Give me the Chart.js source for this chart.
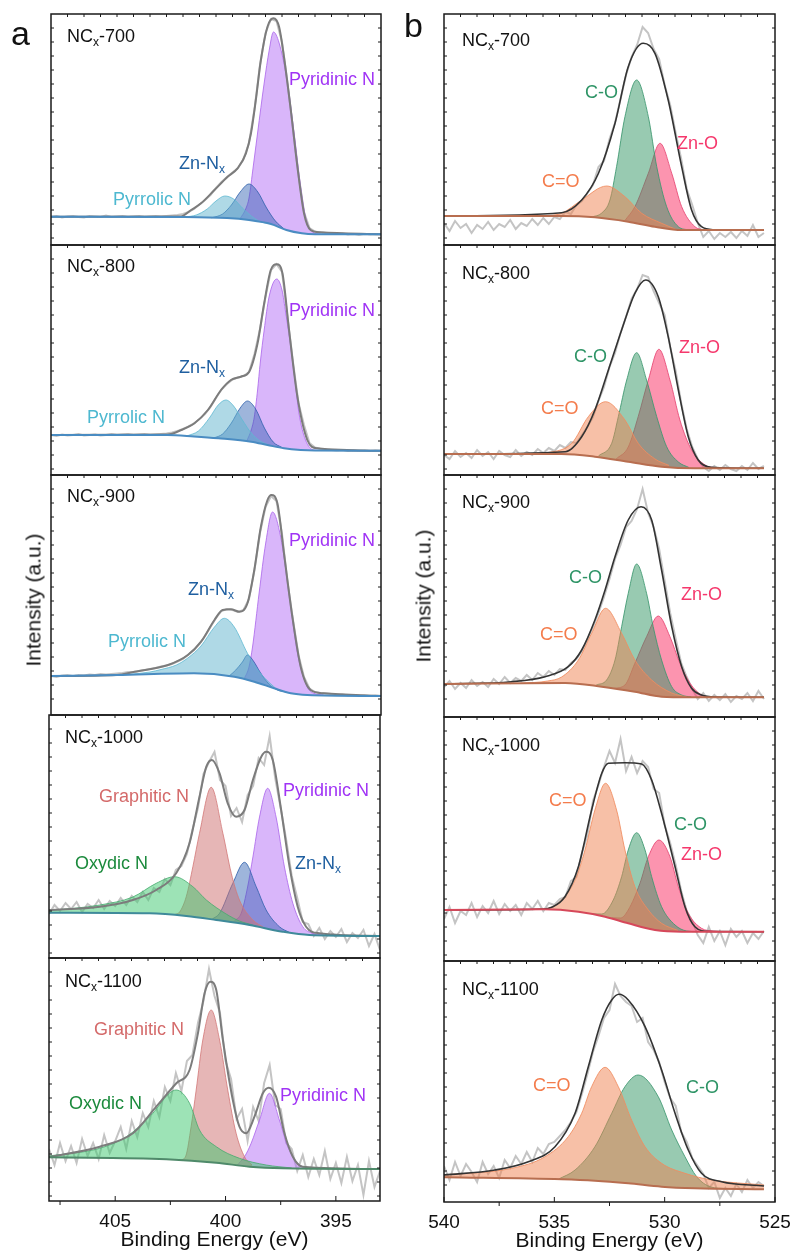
<!DOCTYPE html>
<html>
<head>
<meta charset="utf-8">
<script src="https://cdn.jsdelivr.net/npm/chart.js@4.4.1/dist/chart.umd.min.js"></script>
<style>
  body { margin: 0; background: #fff; width: 795px; height: 1255px; position: relative; overflow: hidden;
         font-family: Arial, "Liberation Sans", sans-serif; color: #111; }
  canvas { position: absolute; }
  .lbl { position: absolute; font-size: 18px; line-height: 1; white-space: nowrap; z-index: 5; }
  .lbl .s { font-size: 12px; position: relative; top: 4px; }
  .big { position: absolute; font-size: 34px; line-height: 1; z-index: 5; }
  .ytl { position: absolute; font-size: 21px; line-height: 1; white-space: nowrap; z-index: 5;
         transform: translate(-50%, -50%) rotate(-90deg); }
</style>
</head>
<body>
<script>
// ---- sampling grids of the raw spectra (eV) ----
const rawE_N = [408,407.75,407.5,407.25,407,406.75,406.5,406.25,406,405.75,405.5,405.25,405,404.75,404.5,404.25,404,403.75,403.5,403.25,
  403,402.75,402.5,402.25,402,401.75,401.5,401.25,401,400.75,400.5,400.25,400,399.75,399.5,399.25,399,398.75,398.5,398.25,
  398,397.75,397.5,397.25,397,396.75,396.5,396.25,396,395.75,395.5,395.25,395,394.75,394.5,394.25,394,393.75,393.5,393.25,393];
const rawE_O = [540,539.75,539.5,539.25,539,538.75,538.5,538.25,538,537.75,537.5,537.25,537,536.75,536.5,536.25,536,535.75,535.5,535.25,
  535,534.75,534.5,534.25,534,533.75,533.5,533.25,533,532.75,532.5,532.25,532,531.75,531.5,531.25,531,530.75,530.5,530.25,
  530,529.75,529.5,529.25,529,528.75,528.5,528.25,528,527.75,527.5,527.25,527,526.75,526.5,526.25,526,525.75,525.5];

// tick labels
const ticksN = [395, 400, 405];
const minorN = [397.5, 402.5, 407.5];
const ticksO = [525, 530, 535, 540];
const minorO = [527.5, 532.5, 537.5];

// ================= N 1s =================
// NCx-700
const raw700N = [28,29,27.5,28.5,29,28,27.5,29,28.5,28, 29.5,28,28.5,29,28,28.5,29,28,28.5,29,
  28.5,29,29.5,30,31,33,36,40.5,45,50, 57,63,68,72.5,77,86,102,136,180,212,
  226,224,203,162,116,70,33,17,13.5,12.5, 12,11.5,11,11.5,10.5,11,10,11,10.5,11, 10.5];
const base700N = [[408,28.3],[402,28],[400,27],[399,25],[398,21],[397.3,15],[396.6,11.7],[396,10.8],[393,10.7]];
const pyrrolic700 = [[401.9,28],[401.4,30],[400.9,36],[400.5,44],[400.1,49],[399.7,46],[399.3,37],[398.9,29],[398.5,23.5],[398.1,21.5]];
const znnx700 = [[400.7,27.2],[400.2,31],[399.8,40],[399.4,53],[399.0,61],[398.6,53],[398.2,37],[397.8,24],[397.4,16]];
const pyridinic700 = [[399.4,26.5],[399.15,36],[399.0,47],[398.81,78],[398.61,112],[398.31,162],[398.08,195],[397.89,213],[397.63,202],[397.25,162],[396.95,112],[396.65,58],[396.43,28],[396.13,13.3],[395.75,10.8]];
const env700N = [[408,28.3],[402.1,28.5],[401.63,35],[401.18,41.7],[400.57,55],[399.97,68.3],[399.52,76.7],[399.14,91.7],[398.91,111.7],[398.69,145],[398.46,185],[398.16,218.3],[397.89,226.7],[397.63,218],[397.41,188],[397.1,135],[396.8,78.3],[396.5,31.7],[396.2,15],[395.75,12.7],[393,10.7]];

// NCx-800
const raw800N = [40,39,40.5,39.5,40,41,39.5,40,40.5,39.5, 40,41,40,40.5,41,40,40.5,41,40,40.5,
  41,41.5,42.5,44,46,48.5,51.5,56,61,68, 77,85.5,91,95.5,97.5,99,103,121,146,178,
  205,211,203,158,113,72,50,32,27.5,26, 25.5,25,24.5,25,24,24.5,24,24.5,24,24.5, 24];
const base800N = [[408,40],[402.7,40],[401.5,38.5],[400.4,36.7],[398.9,33.3],[398.16,30],[397.41,26.7],[396.65,25],[396,24.5],[393,24.3]];
const pyrrolic800 = [[401.8,39.2],[401.3,44],[400.8,57],[400.4,70],[400.05,75],[399.7,69],[399.3,55],[398.9,42],[398.5,34],[398.1,30]];
const znnx800 = [[400.6,37],[400.2,41],[399.8,52],[399.4,67],[399.07,74],[398.7,66],[398.3,47],[397.9,33],[397.5,27.5]];
const pyridinic800 = [[399.1,34],[398.9,45],[398.76,58],[398.61,85],[398.49,112],[398.31,145],[398.09,178],[397.74,196],[397.5,185],[397.33,162],[397.0,112],[396.73,62],[396.43,35],[396.05,25],[395.7,24.5]];
const env800N = [[408,40],[402.7,40.5],[402.08,45],[401.48,51.7],[400.87,65],[400.27,85],[399.82,95],[399.37,98.3],[398.99,103.3],[398.61,131.7],[398.31,171.7],[398.01,205],[397.74,210.7],[397.48,201.7],[397.18,145],[396.8,78.3],[396.35,35],[395.9,26.7],[393,24.3]];

// NCx-900
const raw900N = [39,38,39.5,40,39,40,39.5,40.5,40,41, 40.5,41,41.5,42,43,43,44,45,46,47,
  48.5,49.5,51,53.5,56,60.5,65,71,79,88, 97,104,106,105,103,105,116,145,182,208,
  219,214,181,133,95,60,38,26.5,23,22, 21.5,21,20,20.5,19.5,20,19,19.5,19,19.5, 19];
const base900N = [[408,39],[405,40],[401.5,41.7],[399.67,38.3],[398.76,33.3],[397.86,26.7],[397.1,21.7],[396.35,20],[393,19]];
const pyrrolic900 = [[404.5,40.5],[403.5,43],[403.0,45.5],[402.3,50],[401.78,57],[401.18,69],[400.57,88],[400.12,96.7],[399.67,88],[399.07,61.7],[398.6,45],[398.2,35],[397.8,27]];
const znnx900 = [[399.9,39],[399.6,45],[399.3,53],[399.07,60],[398.8,54],[398.5,43],[398.1,31],[397.71,25],[397.3,23]];
const pyridinic900 = [[399.2,37],[399.0,48],[398.84,68],[398.54,122],[398.24,172],[397.93,203],[397.56,178],[397.18,122],[396.8,62],[396.35,28],[396.05,21.7],[395.6,20]];
const env900N = [[408,39],[405,40],[404.2,43.3],[402.68,50],[401.78,60],[401.18,73.3],[400.57,95],[400.2,105],[399.82,105.7],[399.44,103.3],[399.07,111.7],[398.76,145],[398.46,188.3],[398.16,215],[397.98,220],[397.71,211.7],[397.41,161.7],[397.03,98.3],[396.65,48.3],[396.2,25],[395.6,21.7],[393,19]];

// NCx-1000
const raw1000N = [44,53,47,55,49,56,46,54,50,58, 49,57,52,60,53,62,56,66,58,70,
  66,79,73,88,92,104,128,150,184,196, 206,178,172,142,150,136,163,172,200,193,
  222,180,150,118,82,60,36,34,22,30, 19,27,21,29,16,25,20,28,12,24, 8];
const base1000N = [[408,45.3],[403.44,44.7],[401.78,42],[400.42,38],[398.91,33],[397.41,26.3],[396.2,23],[393,22]];
const oxydic1000 = [[408,47.3],[405.7,53],[404.2,61],[403.14,74.7],[402.31,81.3],[401.48,71.3],[400.87,58],[399.97,44],[399.37,37],[398.76,33]];
const graphitic1000 = [[402.3,43.5],[402.08,46],[401.78,61.3],[401.48,91.3],[401.18,124.7],[400.65,170.7],[400.12,124.7],[399.74,84.7],[399.37,58],[398.76,38],[398.3,31]];
const znnx1000 = [[400.6,39],[400.27,44.7],[399.67,74.7],[399.14,95.7],[398.61,71.3],[398.16,48],[397.56,31.3],[397.1,25.5]];
const pyridinic1000 = [[399.6,37],[399.29,44.7],[399.0,71],[398.76,101],[398.46,141],[398.09,169.7],[397.71,141],[397.33,91],[396.95,54.7],[396.5,31.3],[396.05,24.7],[395.6,23]];
const env1000N = [[408,48],[405.7,51.3],[404.2,58],[403.14,68],[402.23,85],[401.63,115],[401.18,161.3],[400.87,191.3],[400.62,198],[400.27,184.7],[399.9,154.7],[399.52,141.3],[399.14,148],[398.76,178],[398.38,201.3],[398.16,206.3],[397.86,198],[397.48,148],[397.1,91.3],[396.73,51.3],[396.35,31.3],[395.75,24.7],[393,22]];

// NCx-1100
const raw1100N = [52,36,58,40,55,38,62,45,58,42, 66,48,60,74,52,80,64,88,74,100,
  84,114,100,128,110,140,146,178,200,232, 205,188,140,122,82,92,60,94,80,118,
  136,96,92,58,52,30,46,24,42,26, 50,22,38,18,44,20,36,6,40,14, 30];
const base1100N = [[408,43.7],[402.68,41.7],[400.42,38.3],[398.91,34.3],[397.41,32.7],[393,32]];
const oxydic1100 = [[408,45],[405.7,52.7],[404.49,64.3],[403.44,84.3],[402.23,111],[401.63,97.7],[401.18,71],[400.42,54.3],[399.37,42.7],[398.16,36],[397,33]];
const graphitic1100 = [[402.0,41],[401.8,45],[401.56,74.3],[401.33,111],[401.03,161],[400.65,191],[400.27,161],[399.9,111],[399.52,67.7],[399.14,44.3],[398.8,36]];
const pyridinic1100 = [[399.5,35.3],[399.14,44.3],[398.84,57.7],[398.46,81],[398.01,107.7],[397.56,81],[397.18,54.3],[396.73,37.7],[396.3,33.3],[395.8,32.5]];
const env1100N = [[408,44],[405.7,54.3],[404.2,67.7],[403.14,94.3],[402.23,117.7],[401.63,131],[401.25,167.7],[400.95,207.7],[400.69,219.3],[400.42,211],[400.12,161],[399.67,101],[399.37,74.3],[399.07,67.7],[398.69,84.3],[398.31,107.7],[398.04,113.3],[397.71,104.3],[397.33,67.7],[396.95,44.3],[396.5,34.3],[393,32]];

// ================= O 1s =================
// NCx-700
const raw700O = [22,14,24,17,21,12,20,16,23,15, 21,18,25,16,22,19,26,20,27,21,
  28,26,33,31,40,44,52,60,78,84, 106,122,146,170,188,200,218,212,196,186,
  160,140,112,86,56,40,22,8,14,6, 12,8,13,7,14,9,20,8,12];
const base700O = [[540,29],[534.67,29],[533.16,27.7],[531.65,23.3],[530.44,18.3],[529.23,15],[525.5,15]];
const cdo700 = [[535.5,29.1],[534.67,31.7],[533.76,45],[532.63,59],[531.8,48.3],[531.04,31.7],[530.14,21.7],[529.5,15.8]];
const co700 = [[533.3,28],[532.85,32],[532.48,45],[532.18,78.3],[531.8,128.3],[531.27,165],[530.74,128.3],[530.36,78.3],[529.91,38.3],[529.38,18.3],[528.9,15]];
const zno700 = [[531.8,24.5],[531.35,38.3],[530.74,71.7],[530.21,101.7],[529.68,71.7],[529.23,38.3],[528.63,18.3],[528.2,15]];
const env700O = [[540,29],[534.67,32.3],[533.76,45],[533.0,71.7],[532.25,121.7],[531.65,178.3],[530.97,201.7],[530.44,191.7],[529.84,145],[529.23,78.3],[528.78,35],[528.33,18.3],[527.8,15.3],[525.5,15]];

// NCx-800
const raw800O = [20,16,24,18,22,17,25,19,23,16, 24,20,18,25,19,23,20,26,22,27,
  24,30,27,33,32,40,48,58,74,88, 108,122,142,158,176,186,200,198,184,172,
  160,128,104,72,46,28,16,8,4,9, 5,10,6,4,9,5,12,6,9];
const base800O = [[540,21],[534.67,21],[533.16,18.3],[531.65,13.3],[530.14,8.3],[528.63,6.7],[525.5,6.7]];
const cdo800 = [[535.5,21.1],[534.21,31.7],[533.46,58.3],[532.68,73.3],[531.8,55],[531.2,31.7],[530.44,16],[529.8,9.5]];
const co800 = [[533.0,19],[532.4,31.7],[532.1,58.3],[531.72,95],[531.27,122.3],[530.82,95],[530.36,58.3],[529.91,28.3],[529.38,13],[528.9,7.5]];
const zno800 = [[532.2,16],[531.65,28],[531.2,58.3],[530.74,95],[530.26,125.7],[529.76,95],[529.31,55],[528.78,25],[528.17,10],[527.7,7]];
const env800O = [[540,21],[534.5,23.3],[533.76,38.3],[533.16,65],[532.55,105],[531.95,145],[531.35,181.7],[530.86,195],[530.29,178.3],[529.84,138.3],[529.38,85],[528.93,38.3],[528.48,15],[527.9,7.7],[525.5,6.7]];

// NCx-900
const raw900O = [30,36,28,34,29,37,31,35,30,38, 33,40,34,39,36,42,37,44,40,46,
  42,48,47,54,58,66,78,90,104,120, 138,158,172,190,196,208,228,204,190,168,
  136,104,78,54,40,28,18,24,16,22, 17,23,15,21,18,24,16,26,18];
const base900O = [[540,33],[534.5,34],[532.85,30.3],[531.35,25.3],[530.14,20.3],[528.9,19.7],[525.5,19.7]];
const cdo900 = [[536.5,33.7],[535.3,36],[534.67,40],[533.91,57],[533.31,83.7],[532.68,108.7],[531.95,83.7],[531.35,57],[530.59,37],[529.68,24],[529,20]];
const co900 = [[533.1,32],[532.63,37],[532.25,57],[531.95,90.3],[531.65,123.7],[531.27,153],[530.82,123.7],[530.52,90.3],[530.14,57],[529.68,30.3],[529.23,22],[528.8,20]];
const zno900 = [[532.3,28.6],[531.8,32],[531.35,53.7],[530.82,80.3],[530.29,101],[529.76,80.3],[529.31,53.7],[528.85,33.7],[528.33,22],[527.9,20]];
const env900O = [[540,33],[536.93,35.3],[535.42,40.3],[534.37,50.3],[533.76,67],[533.16,97],[532.7,127],[532.25,160.3],[531.65,197],[531.07,210.3],[530.59,197],[530.14,147],[529.68,90.3],[529.23,50.3],[528.78,28.7],[528.33,22],[527.7,20],[525.5,19.7]];

// NCx-1000
const raw1000O = [42,54,38,50,46,58,44,55,48,60, 47,57,50,56,46,58,52,60,50,58,
  56,62,64,80,84,108,126,160,176,194, 210,198,222,190,204,188,200,194,172,168,
  136,118,96,70,50,40,26,18,34,20, 30,16,32,24,30,18,28,22,30];
const base1000O = [[540,51],[535.5,51.7],[533.91,49.3],[532.7,44.3],[531.65,37.7],[530.44,31],[529.23,29.3],[525.5,29.3]];
const cdo1000 = [[536,51.6],[535.3,52.7],[534.67,61],[534.06,81],[533.61,111],[533.16,151],[532.68,177.7],[532.18,151],[531.8,111],[531.35,74.3],[530.74,51],[530.14,37.7],[529.4,30.5]];
const co1000 = [[533.3,47.2],[532.85,47],[532.33,61],[531.95,84.3],[531.65,111],[531.27,128.3],[530.89,111],[530.59,84.3],[530.14,54.3],[529.53,36],[529.0,30],[528.5,29.3]];
const zno1000 = [[532.4,43.2],[532.0,43],[531.65,51],[531.12,77.7],[530.74,104.3],[530.26,121],[529.76,104.3],[529.38,74.3],[528.93,47.7],[528.33,32.7],[527.8,30],[527.3,29.3]];
const env1000O = [[540,51],[535.5,52],[535.12,53.7],[534.52,64.3],[533.91,94.3],[533.31,151],[532.85,187.7],[532.55,197.7],[531.8,198.3],[531.04,197],[530.59,181],[530.14,147.7],[529.53,94.3],[529.08,54.3],[528.63,34.3],[528,29.5],[525.5,29.3]];

// NCx-1100
const raw1100O = [36,22,40,26,38,30,20,40,28,36, 24,42,34,46,38,50,40,54,48,58,
  60,66,72,80,90,108,128,150,166,184, 192,218,206,200,196,180,184,160,152,140,
  120,104,96,70,60,44,36,28,14,20, 4,14,6,18,10,22,14,20,16];
const base1100O = [[540,24.7],[534.67,22.7],[533.16,21.3],[531.65,18.7],[530.14,15.3],[528.63,13.7],[525.5,12.7]];
const cdo1100 = [[540,27],[536.93,33.7],[535.42,45.3],[534.37,65.3],[533.76,88.7],[533.31,115.3],[532.7,134.7],[532.1,115.3],[531.5,82],[530.89,55.3],[530.14,38.7],[529.08,28.7],[527.87,22],[525.5,17]];
const co1100 = [[534.8,23],[534.06,32],[533.16,55.3],[532.4,88.7],[531.8,115.3],[531.2,127],[530.29,105.3],[529.68,72],[529.08,45.3],[528.55,25.3],[527.9,15],[527.3,13.5]];
const env1100O = [[540,27],[537.69,32],[536.18,40.3],[534.97,55.3],[534.06,88.7],[533.46,135.3],[532.85,182],[532.4,202],[532.07,207.7],[531.65,202],[530.89,175.3],[530.14,132],[529.53,88.7],[528.93,52],[528.33,28.7],[527.42,20.3],[525.5,16]];

// ---- styles ----
const FONT = 'Arial, "Liberation Sans", sans-serif';
const COL = {
  pyridinic: { fill: 'rgba(180,110,245,0.5)', line: 'rgba(170,100,235,0.8)' },
  znnx:      { fill: 'rgba(40,90,175,0.45)',  line: 'rgba(45,95,170,0.8)' },
  pyrrolic:  { fill: 'rgba(95,180,205,0.5)',  line: 'rgba(95,185,210,0.8)' },
  graphitic: { fill: 'rgba(205,110,110,0.5)', line: 'rgba(210,120,120,0.8)' },
  oxydic:    { fill: 'rgba(60,200,110,0.5)',  line: 'rgba(70,170,110,0.8)' },
  cdo:       { fill: 'rgba(240,130,80,0.5)',  line: 'rgba(240,140,95,0.85)' },
  co:        { fill: 'rgba(50,150,100,0.5)',  line: 'rgba(60,150,110,0.85)' },
  zno:       { fill: 'rgba(250,60,110,0.55)', line: 'rgba(230,70,115,0.85)' }
};
const N_AX = { major: ticksN, minor: minorN };
const O_AX = { major: ticksO, minor: minorO };

const panels = [
  { x: 51, y: 14, w: 330, h: 231, r: [393, 408], rawE: rawE_N, raw: raw700N, base: base700N, env: env700N,
    comps: [['pyrrolic', pyrrolic700], ['znnx', znnx700], ['pyridinic', pyridinic700]], bc: '#4a8cc2', ec: '#7c7c7c', ew: 2 },
  { x: 51, y: 245, w: 330, h: 230, r: [393, 408], rawE: rawE_N, raw: raw800N, base: base800N, env: env800N,
    comps: [['pyrrolic', pyrrolic800], ['znnx', znnx800], ['pyridinic', pyridinic800]], bc: '#4a8cc2', ec: '#7c7c7c', ew: 2 },
  { x: 51, y: 475, w: 330, h: 240, r: [393, 408], rawE: rawE_N, raw: raw900N, base: base900N, env: env900N,
    comps: [['pyrrolic', pyrrolic900], ['znnx', znnx900], ['pyridinic', pyridinic900]], bc: '#4a8cc2', ec: '#7c7c7c', ew: 2 },
  { x: 49, y: 715, w: 331, h: 243, r: [393, 408], rawE: rawE_N, raw: raw1000N, base: base1000N, env: env1000N,
    comps: [['oxydic', oxydic1000], ['graphitic', graphitic1000], ['znnx', znnx1000], ['pyridinic', pyridinic1000]], bc: '#3f8a9a', ec: '#7c7c7c', ew: 2 },
  { x: 49, y: 958, w: 331, h: 243, r: [393, 408], rawE: rawE_N, raw: raw1100N, base: base1100N, env: env1100N,
    comps: [['oxydic', oxydic1100], ['graphitic', graphitic1100], ['pyridinic', pyridinic1100]], bc: '#4f8a6a', ec: '#7c7c7c', ew: 2, axis: N_AX },
  { x: 444, y: 14, w: 331, h: 231, r: [525, 540], rawE: rawE_O, raw: raw700O, base: base700O, env: env700O,
    comps: [['cdo', cdo700], ['co', co700], ['zno', zno700]], bc: '#b86e50', ec: '#333333', ew: 1.6 },
  { x: 444, y: 245, w: 331, h: 230, r: [525, 540], rawE: rawE_O, raw: raw800O, base: base800O, env: env800O,
    comps: [['cdo', cdo800], ['co', co800], ['zno', zno800]], bc: '#b86e50', ec: '#333333', ew: 1.6 },
  { x: 444, y: 475, w: 331, h: 242, r: [525, 540], rawE: rawE_O, raw: raw900O, base: base900O, env: env900O,
    comps: [['cdo', cdo900], ['co', co900], ['zno', zno900]], bc: '#b86e50', ec: '#333333', ew: 1.6 },
  { x: 444, y: 717, w: 331, h: 244, r: [525, 540], rawE: rawE_O, raw: raw1000O, base: base1000O, env: env1000O,
    comps: [['cdo', cdo1000], ['co', co1000], ['zno', zno1000]], bc: '#d6485a', ec: '#333333', ew: 1.6 },
  { x: 444, y: 961, w: 331, h: 241, r: [525, 540], rawE: rawE_O, raw: raw1100O, base: base1100O, env: env1100O,
    comps: [['cdo', cdo1100], ['co', co1100]], bc: '#b86e50', ec: '#333333', ew: 1.6, axis: O_AX }
];

// text labels: [html, left x, centre y, colour]
const labels = [
  ['NC<span class="s">x</span>-700', 67, 36, '#111'],
  ['Pyridinic N', 289, 79, '#a033f5'],
  ['Zn-N<span class="s">x</span>', 179, 163, '#1f5fa0'],
  ['Pyrrolic N', 113, 199, '#4db8d0'],
  ['NC<span class="s">x</span>-800', 67, 266, '#111'],
  ['Pyridinic N', 289, 310, '#a033f5'],
  ['Zn-N<span class="s">x</span>', 179, 367, '#1f5fa0'],
  ['Pyrrolic N', 87, 417, '#4db8d0'],
  ['NC<span class="s">x</span>-900', 67, 496, '#111'],
  ['Pyridinic N', 289, 540, '#a033f5'],
  ['Zn-N<span class="s">x</span>', 188, 589, '#1f5fa0'],
  ['Pyrrolic N', 108, 641, '#4db8d0'],
  ['NC<span class="s">x</span>-1000', 65, 737, '#111'],
  ['Graphitic N', 99, 796, '#d46a6a'],
  ['Pyridinic N', 283, 790, '#a033f5'],
  ['Oxydic N', 75, 863, '#1b8a3c'],
  ['Zn-N<span class="s">x</span>', 295, 863, '#1f5fa0'],
  ['NC<span class="s">x</span>-1100', 65, 981, '#111'],
  ['Graphitic N', 94, 1029, '#d46a6a'],
  ['Oxydic N', 69, 1103, '#1b8a3c'],
  ['Pyridinic N', 280, 1095, '#a033f5'],
  ['NC<span class="s">x</span>-700', 462, 40, '#111'],
  ['C-O', 585, 92, '#2e9466'],
  ['Zn-O', 677, 143, '#f5386c'],
  ['C=O', 542, 181, '#f47c4c'],
  ['NC<span class="s">x</span>-800', 462, 273, '#111'],
  ['C-O', 574, 356, '#2e9466'],
  ['Zn-O', 679, 347, '#f5386c'],
  ['C=O', 541, 408, '#f47c4c'],
  ['NC<span class="s">x</span>-900', 462, 502, '#111'],
  ['C-O', 569, 577, '#2e9466'],
  ['Zn-O', 681, 594, '#f5386c'],
  ['C=O', 540, 634, '#f47c4c'],
  ['NC<span class="s">x</span>-1000', 462, 745, '#111'],
  ['C=O', 549, 800, '#f47c4c'],
  ['C-O', 674, 824, '#2e9466'],
  ['Zn-O', 681, 854, '#f5386c'],
  ['NC<span class="s">x</span>-1100', 462, 989, '#111'],
  ['C=O', 533, 1085, '#f47c4c'],
  ['C-O', 686, 1087, '#2e9466']
];

Chart.defaults.font.family = FONT;
Chart.defaults.color = '#111';

const pts = arr => arr.map(p => ({ x: p[0], y: p[1] }));
const rawPts = (xs, ys) => ys.map((y, i) => ({ x: xs[i], y })).filter(p => p.x !== undefined);

// frame with small inward ticks, plus major/minor ticks on the bottom axis
const framePlugin = {
  id: 'frame',
  afterDraw(chart, args, opts) {
    const { ctx, chartArea: a } = chart;
    ctx.save();
    ctx.strokeStyle = '#1a1a1a';
    ctx.lineWidth = 1.5;
    ctx.strokeRect(a.left, a.top, a.right - a.left, a.bottom - a.top);
    ctx.lineWidth = 1;
    ctx.beginPath();
    for (let y = a.top + 14; y < a.bottom - 4; y += 14) {
      ctx.moveTo(a.left, y); ctx.lineTo(a.left + 3, y);
      ctx.moveTo(a.right, y); ctx.lineTo(a.right - 3, y);
    }
    for (let x = a.left + 16.5; x < a.right - 4; x += 16.5) {
      ctx.moveTo(x, a.top); ctx.lineTo(x, a.top + 3);
    }
    if (opts.axis) {
      const sx = chart.scales.x;
      opts.axis.major.forEach(v => {
        const px = sx.getPixelForValue(v);
        ctx.moveTo(px, a.bottom); ctx.lineTo(px, a.bottom - 5);
      });
      opts.axis.minor.forEach(v => {
        const px = sx.getPixelForValue(v);
        ctx.moveTo(px, a.bottom); ctx.lineTo(px, a.bottom + 4);
      });
    }
    ctx.stroke();
    ctx.restore();
  }
};

const PAD = 20, AXIS_H = 52;
panels.forEach(p => {
  const cv = document.createElement('canvas');
  cv.width = p.w + PAD * 2;
  cv.height = p.h + 2 + (p.axis ? AXIS_H : 2);
  cv.style.left = (p.x - PAD) + 'px';
  cv.style.top = (p.y - 2) + 'px';
  document.body.appendChild(cv);

  const datasets = [
    { data: pts(p.base), borderColor: p.bc, borderWidth: 2, fill: false, cubicInterpolationMode: 'monotone' },
    { data: pts(p.env), borderColor: p.ec, borderWidth: p.ew, fill: false, cubicInterpolationMode: 'monotone' }
  ];
  p.comps.forEach(([k, d]) => {
    datasets.push({ data: pts(d), borderColor: COL[k].line, backgroundColor: COL[k].fill, borderWidth: 1,
      fill: { target: 0 }, cubicInterpolationMode: 'monotone' });
  });
  datasets.push({ data: rawPts(p.rawE, p.raw), borderColor: '#c4c4c4', borderWidth: 2, fill: false, tension: 0 });

  const xScale = {
    type: 'linear', reverse: true, min: p.r[0], max: p.r[1], display: !!p.axis,
    grid: { display: false, drawTicks: false }, border: { display: false }
  };
  if (p.axis) {
    Object.assign(xScale, {
      ticks: { font: { size: 19 }, color: '#111', padding: 9, maxRotation: 0, autoSkip: false },
      afterBuildTicks: s => { s.ticks = p.axis.major.map(v => ({ value: v })); },
      afterFit: s => { s.height = AXIS_H; },
      title: { display: true, text: 'Binding Energy (eV)', font: { size: 21 }, color: '#111', padding: { top: 0, bottom: 0 } }
    });
  }

  new Chart(cv, {
    type: 'line',
    data: { datasets },
    options: {
      responsive: false, animation: false, devicePixelRatio: 1,
      layout: { autoPadding: false, padding: { left: PAD, right: PAD, top: 2, bottom: p.axis ? 0 : 2 } },
      elements: { point: { radius: 0 } },
      plugins: { legend: { display: false }, tooltip: { enabled: false }, frame: { axis: p.axis || null } },
      scales: { x: xScale, y: { display: false, min: 0, max: p.h } }
    },
    plugins: [framePlugin]
  });
});

labels.forEach(([html, x, cy, c]) => {
  const d = document.createElement('div');
  d.className = 'lbl';
  d.innerHTML = html;
  d.style.left = x + 'px';
  d.style.top = (cy - 9) + 'px';
  d.style.color = c;
  document.body.appendChild(d);
});

[['a', 11, 16], ['b', 404, 8]].forEach(([t, x, y]) => {
  const d = document.createElement('div');
  d.className = 'big';
  d.textContent = t;
  d.style.left = x + 'px';
  d.style.top = y + 'px';
  document.body.appendChild(d);
});

[[33, 600], [423, 596]].forEach(([x, y]) => {
  const d = document.createElement('div');
  d.className = 'ytl';
  d.textContent = 'Intensity (a.u.)';
  d.style.left = x + 'px';
  d.style.top = y + 'px';
  document.body.appendChild(d);
});
</script>
</body>
</html>
